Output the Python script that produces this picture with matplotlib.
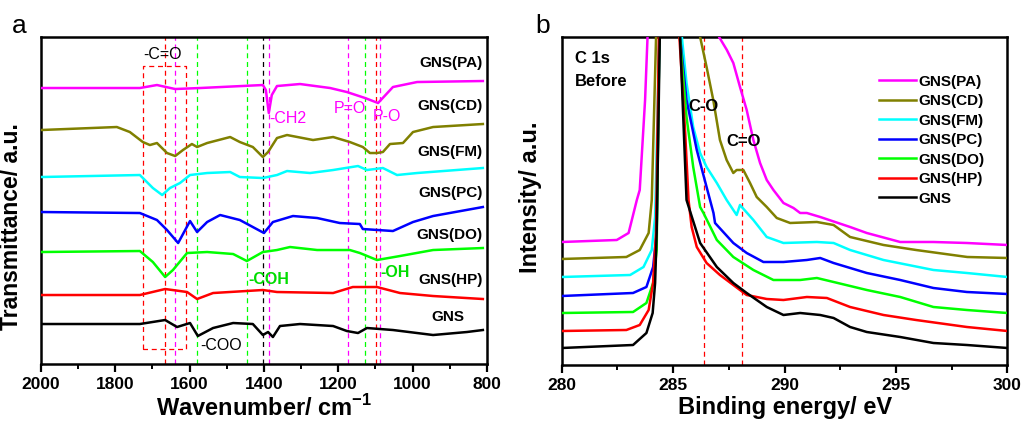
import numpy as np
import matplotlib
matplotlib.use("Agg")
import matplotlib.pyplot as plt

plt.rcParams['font.family'] = ['Liberation Sans', 'DejaVu Sans']
plt.rcParams['mathtext.fontset'] = 'custom'
plt.rcParams['mathtext.rm'] = 'Liberation Sans'
plt.rcParams['mathtext.bf'] = 'Liberation Sans:bold'

# ---------------- panel a : FTIR (wavenumber, offset transmittance) ----------------
ir_names = ['GNS(PA)', 'GNS(CD)', 'GNS(FM)', 'GNS(PC)', 'GNS(DO)', 'GNS(HP)', 'GNS']
colors = ['#ff00ff', '#808000', '#00ffff', '#0000ff', '#00ff00', '#ff0000', '#000000']

wn_pa = [2000, 1734, 1688, 1639, 1572, 1403, 1395, 1387, 1379, 1365, 1303, 1222, 1177, 1128, 1093, 1053, 988, 811]
tr_pa = [276, 276, 279, 275, 276, 279, 274, 251, 269, 278, 280, 276, 272, 266, 261, 277, 282, 283]

wn_cd = [2000, 1796, 1761, 1726, 1707, 1688, 1661, 1639, 1618, 1594, 1580, 1553, 1491, 1465, 1430, 1403, 1389,
         1365, 1338, 1268, 1214, 1169, 1134, 1115, 1096, 1080, 1061, 1026, 999, 945, 811]
tr_cd = [234, 237, 232, 222, 219, 221, 211, 208, 214, 220, 217, 221, 227, 222, 217, 207, 212,
         226, 229, 224, 227, 222, 217, 211, 211, 212, 220, 221, 232, 237, 240]

wn_fm = [2000, 1734, 1699, 1674, 1653, 1626, 1599, 1553, 1491, 1465, 1403, 1365, 1338, 1276, 1214, 1147,
         1123, 1080, 1042, 988, 811]
tr_fm = [187, 189, 176, 169, 176, 181, 189, 191, 192, 187, 186, 189, 193, 191, 194, 198,
         194, 196, 189, 191, 196]

wn_pc = [2000, 1734, 1688, 1661, 1631, 1599, 1580, 1553, 1518, 1465, 1430, 1400, 1376, 1322, 1257, 1196,
         1142, 1134, 1053, 999, 945, 811]
tr_pc = [152, 151, 144, 134, 121, 143, 132, 142, 149, 144, 137, 131, 142, 148, 146, 141,
         140, 135, 133, 142, 148, 157]

wn_do = [2000, 1734, 1699, 1666, 1645, 1607, 1553, 1483, 1446, 1403, 1365, 1330, 1257, 1169, 1142, 1096,
         1034, 945, 811]
tr_do = [112, 113, 102, 87, 94, 111, 112, 110, 103, 112, 114, 117, 114, 114, 111, 104,
         108, 114, 116]

wn_hp = [2000, 1734, 1666, 1607, 1580, 1537, 1403, 1365, 1214, 1161, 1096, 1034, 945, 811]
tr_hp = [69, 69, 75, 72, 65, 71, 74, 72, 71, 77, 77, 71, 68, 65]

wn_gns = [2000, 1734, 1666, 1634, 1599, 1578, 1537, 1483, 1430, 1403, 1389, 1376, 1357, 1303, 1214, 1177,
          1147, 1123, 1053, 945, 854, 811]
tr_gns = [40, 40, 44, 37, 41, 28, 36, 41, 40, 29, 32, 27, 38, 40, 38, 33,
          31, 36, 34, 29, 32, 34]

ir_wn = [wn_pa, wn_cd, wn_fm, wn_pc, wn_do, wn_hp, wn_gns]
ir_tr = [tr_pa, tr_cd, tr_fm, tr_pc, tr_do, tr_hp, tr_gns]
ir_label_y = [301, 258, 212, 171, 129, 84, 47]

# reference band positions
band_pos = [1666, 1639, 1581, 1447, 1402, 1386, 1173, 1129, 1099, 1088]
band_col = ['#ff0000', '#ff00ff', '#00ff00', '#00ff00', '#000000', '#ff00ff', '#ff00ff', '#00ff00', '#ff0000', '#ff00ff']

# ---------------- panel b : XPS C 1s ----------------
be_pa = [280, 282.47, 283.0, 283.37, 283.5, 283.74, 283.85, 284.8, 287.06, 287.41, 287.7, 288.0, 288.3, 288.6,
         288.9, 289.2, 289.5, 289.95, 290.4, 290.7, 291.0, 291.6, 292.94, 293.69, 295.19, 296.68, 298.18, 300]
in_pa = [123, 125, 132, 165, 175, 265, 328, 900, 328, 315, 302, 278, 255, 225,
         202, 185, 175, 162, 157, 152, 152, 148, 138, 132, 123, 123, 122, 120]

be_cd = [280, 282.9, 283.5, 283.9, 284.04, 284.23, 284.8, 286.21, 286.5, 286.8, 287.1, 287.4, 287.7, 287.85,
         288.15, 288.45, 288.75, 289.2, 289.65, 290.25, 291.45, 292.2, 292.94, 294.44, 295.9, 298.2, 300]
in_cd = [106, 108, 115, 132, 165, 325, 900, 328, 298, 265, 225, 205, 192, 195,
         195, 182, 168, 158, 147, 142, 143, 140, 128, 120, 115, 108, 107]

be_fm = [280, 283.07, 283.67, 284.04, 284.19, 284.38, 284.8, 285.39, 285.6, 285.9, 286.21, 286.5, 286.96, 287.4,
         287.85, 288.0, 288.6, 289.2, 289.95, 291.45, 292.2, 292.94, 294.44, 296.68, 298.18, 300]
in_fm = [88, 90, 98, 115, 148, 328, 900, 328, 282, 238, 212, 198, 182, 165,
         150, 160, 145, 128, 122, 123, 122, 115, 105, 95, 92, 88]

be_pc = [280, 283.2, 283.8, 284.1, 284.26, 284.38, 284.8, 285.31, 285.6, 286.06, 286.5, 286.81, 286.88, 287.7,
         288.3, 289.05, 289.95, 291.0, 291.6, 292.2, 293.69, 295.19, 296.68, 298.18, 300]
in_pc = [69, 72, 78, 98, 132, 328, 900, 328, 265, 215, 178, 152, 142, 122,
         112, 103, 103, 105, 107, 102, 92, 85, 77, 73, 71]

be_do = [280, 283.2, 283.8, 284.1, 284.26, 284.38, 284.8, 285.3, 285.6, 285.9, 286.21, 286.36, 286.96, 287.7,
         288.6, 289.5, 290.7, 291.45, 292.2, 293.69, 295.19, 296.68, 298.18, 300]
in_do = [52, 53, 62, 82, 115, 328, 900, 328, 248, 198, 158, 152, 125, 108,
         95, 85, 85, 87, 83, 75, 68, 58, 55, 52]

be_hp = [280, 282.9, 283.5, 283.9, 284.1, 284.23, 284.36, 284.8, 285.28, 285.54, 285.69, 285.83, 286.06, 286.5,
         287.1, 287.7, 288.3, 289.2, 289.95, 291.0, 291.9, 292.94, 294.44, 295.9, 298.18, 300]
in_hp = [34, 35, 40, 55, 82, 132, 328, 900, 328, 232, 165, 138, 118, 102,
         90, 80, 70, 66, 65, 68, 67, 58, 50, 45, 38, 34]

be_gns = [280, 283.2, 283.8, 284.08, 284.19, 284.26, 284.4, 284.8, 285.31, 285.6, 286.21, 286.96, 287.7, 288.3,
          289.2, 289.95, 290.7, 291.6, 292.2, 292.94, 293.69, 295.19, 296.68, 298.18, 300]
in_gns = [17, 20, 32, 52, 82, 132, 328, 900, 328, 165, 122, 98, 82, 72,
          58, 50, 52, 50, 47, 38, 33, 28, 22, 20, 17]

xps_be = [be_pa, be_cd, be_fm, be_pc, be_do, be_hp, be_gns]
xps_in = [in_pa, in_cd, in_fm, in_pc, in_do, in_hp, in_gns]
xps_lines = [286.4, 288.1]

fig = plt.figure(figsize=(10.33, 4.28), dpi=100)
ax1 = fig.add_axes([0.0397, 0.1495, 0.4317, 0.764])
ax2 = fig.add_axes([0.5438, 0.1472, 0.4314, 0.7664])

# ---- panel a
for wn, tr, c in zip(ir_wn, ir_tr, colors):
    ax1.plot(wn, tr, color=c, lw=1.8, zorder=3)
for p, c in zip(band_pos, band_col):
    ax1.axvline(p, color=c, lw=0.9, ls=(0, (4, 3)), zorder=2)
# dashed box around C=O region
ax1.plot([1726, 1726, 1611, 1611, 1726], [15, 298, 298, 15, 15], color='#ff0000', lw=0.9, ls=(0, (4, 3)), zorder=2)

for name, y in zip(ir_names, ir_label_y):
    if name == 'GNS':
        ax1.text(905, y, name, ha='center', va='center', fontsize=11, fontweight='bold')
    else:
        ax1.text(811, y, name, ha='right', va='center', fontsize=11, fontweight='bold')

ax1.text(1672, 310, '-C=O', ha='center', va='center', fontsize=11.5)
ax1.text(1387, 246, '-CH2', ha='left', va='center', fontsize=11.5, color='#ff00ff')
ax1.text(1211, 256, 'P=O', ha='left', va='center', fontsize=11.5, color='#ff00ff')
ax1.text(1107, 248, 'P-O', ha='left', va='center', fontsize=11.5, color='#ff00ff')
ax1.text(1443, 85, '-COH', ha='left', va='center', fontsize=11.5, color='#00dd00', fontweight='bold')
ax1.text(1088, 92, '-OH', ha='left', va='center', fontsize=11.5, color='#00dd00', fontweight='bold')
ax1.text(1572, 19, '-COO', ha='left', va='center', fontsize=11.5)

ax1.set_xlim(2000, 800)
ax1.set_ylim(0, 327)
ax1.set_xticks(np.arange(2000, 799, -200))
ax1.set_xticks(np.arange(1900, 800, -200), minor=True)
ax1.set_yticks([])
ax1.set_xlabel('Wavenumber/ cm$^{\\mathbf{-1}}$', fontsize=17, fontweight='bold', labelpad=2)
ax1.set_ylabel('Transmittance/ a.u.', fontsize=16.5, fontweight='bold')
ax1.yaxis.set_label_coords(-0.041, 0.42)
fig.text(0.019, 0.94, 'a', fontsize=19, ha='center', va='center')

# ---- panel b
for be, it, c, name in zip(xps_be, xps_in, colors, ir_names):
    ax2.plot(be, it, color=c, lw=1.8, label=name, zorder=3)
for p in xps_lines:
    ax2.axvline(p, color='#ff0000', lw=0.9, ls=(0, (4, 3)), zorder=2)

ax2.text(280.6, 306, 'C 1s', fontsize=12, fontweight='bold', va='center')
ax2.text(280.6, 283, 'Before', fontsize=12, fontweight='bold', va='center')
ax2.text(286.35, 258, 'C-O', fontsize=12, fontweight='bold', ha='center', va='center')
ax2.text(288.15, 223, 'C=O', fontsize=12, fontweight='bold', ha='center', va='center')

leg = ax2.legend(loc='upper left', bbox_to_anchor=(0.712, 0.885), frameon=False, fontsize=11,
                 handlelength=2.4, handletextpad=0.2, labelspacing=0.36, borderaxespad=0, borderpad=0)
for t in leg.get_texts():
    t.set_fontweight('bold')

ax2.set_xlim(280, 300)
ax2.set_ylim(0, 328)
ax2.set_xticks(np.arange(280, 301, 5))
ax2.set_xticks(np.arange(282.5, 300, 5), minor=True)
ax2.set_yticks([])
ax2.set_xlabel('Binding energy/ eV', fontsize=17, fontweight='bold', labelpad=2)
ax2.set_ylabel('Intensity/ a.u.', fontsize=17, fontweight='bold')
ax2.yaxis.set_label_coords(-0.045, 0.51)
fig.text(0.525, 0.94, 'b', fontsize=19, ha='center', va='center')

for ax in (ax1, ax2):
    for s in ax.spines.values():
        s.set_linewidth(1.8)
    ax.tick_params(axis='x', which='major', direction='out', length=5.5, width=1.6, labelsize=12.5, pad=4)
    ax.tick_params(axis='x', which='minor', direction='out', length=3.5, width=1.4)
    for lab in ax.get_xticklabels():
        lab.set_fontweight('bold')

fig.savefig('out.png', dpi=100)
